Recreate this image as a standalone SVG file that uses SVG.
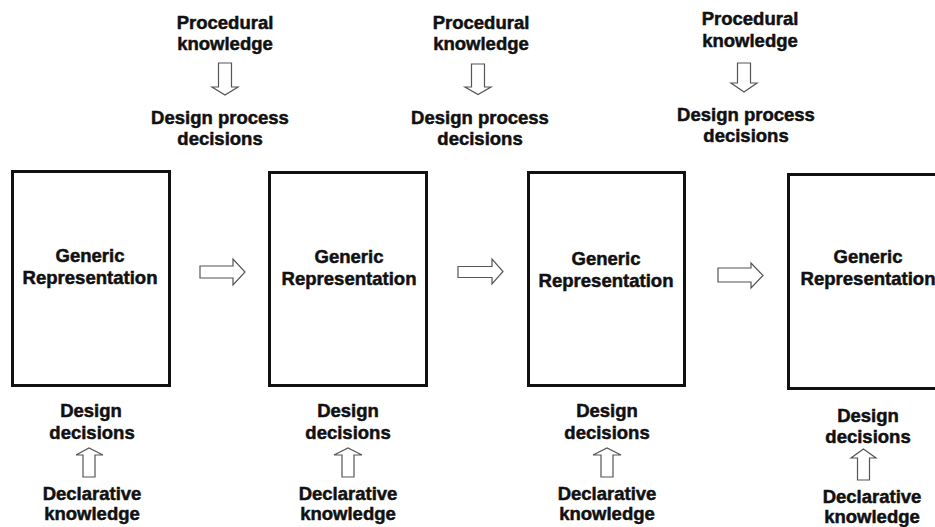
<svg xmlns="http://www.w3.org/2000/svg" width="935" height="527" viewBox="0 0 935 527">
<style>
  .t { font-family: "Liberation Sans", Arial, sans-serif; font-weight: bold; font-size: 18.5px; fill: #111; stroke: #111; stroke-width: 0.5; text-anchor: middle; }
  .box { fill: #fff; stroke: #111; stroke-width: 3; }
  .arr { fill: #fff; stroke: #555; stroke-width: 1.2; stroke-linejoin: miter; }
</style>
<rect width="935" height="527" fill="#fff"/>

<g id="node-rep1">
  <rect class="box" x="12.5" y="171.5" width="157" height="214"/>
  <text class="t" x="90" y="262">Generic</text>
  <text class="t" x="90" y="284" textLength="135" lengthAdjust="spacingAndGlyphs">Representation</text>
</g>
<g id="node-rep2">
  <rect class="box" x="269.5" y="172.5" width="157" height="213"/>
  <text class="t" x="349" y="263">Generic</text>
  <text class="t" x="349" y="285" textLength="135" lengthAdjust="spacingAndGlyphs">Representation</text>
</g>
<g id="node-rep3">
  <rect class="box" x="528.5" y="172.5" width="156" height="213"/>
  <text class="t" x="606" y="265">Generic</text>
  <text class="t" x="606" y="287" textLength="135" lengthAdjust="spacingAndGlyphs">Representation</text>
</g>
<g id="node-rep4">
  <rect class="box" x="788.5" y="174.5" width="157" height="214"/>
  <text class="t" x="868" y="263">Generic</text>
  <text class="t" x="868" y="285" textLength="135" lengthAdjust="spacingAndGlyphs">Representation</text>
</g>

<g id="node-top1">
  <text class="t" x="225" y="29">Procedural</text>
  <text class="t" x="225" y="50">knowledge</text>
  <text class="t" x="220" y="124">Design process</text>
  <text class="t" x="220" y="145">decisions</text>
</g>
<g id="node-top2">
  <text class="t" x="481" y="29">Procedural</text>
  <text class="t" x="481" y="50">knowledge</text>
  <text class="t" x="480" y="124">Design process</text>
  <text class="t" x="480" y="145">decisions</text>
</g>
<g id="node-top3">
  <text class="t" x="750" y="25">Procedural</text>
  <text class="t" x="750" y="47">knowledge</text>
  <text class="t" x="746" y="121">Design process</text>
  <text class="t" x="746" y="142">decisions</text>
</g>

<g id="node-bot1">
  <text class="t" x="91" y="417">Design</text>
  <text class="t" x="92" y="439">decisions</text>
  <text class="t" x="92" y="500">Declarative</text>
  <text class="t" x="92" y="520">knowledge</text>
</g>
<g id="node-bot2">
  <text class="t" x="348" y="417">Design</text>
  <text class="t" x="348" y="439">decisions</text>
  <text class="t" x="348" y="500">Declarative</text>
  <text class="t" x="348" y="520">knowledge</text>
</g>
<g id="node-bot3">
  <text class="t" x="607" y="417">Design</text>
  <text class="t" x="607" y="439">decisions</text>
  <text class="t" x="607" y="500">Declarative</text>
  <text class="t" x="607" y="520">knowledge</text>
</g>
<g id="node-bot4">
  <text class="t" x="868" y="422">Design</text>
  <text class="t" x="868" y="443">decisions</text>
  <text class="t" x="872" y="503">Declarative</text>
  <text class="t" x="872" y="523">knowledge</text>
</g>

<g id="connectors">
  <path class="arr" d="M200,266 H233 V259 L245,272 L233,285 V278 H200 Z"/>
  <path class="arr" d="M458,266.5 H492 V259 L503,271.5 L492,284 V277.5 H458 Z"/>
  <path class="arr" d="M718,268 H751 V263 L763,275.5 L751,288 V282 H718 Z"/>
  <path class="arr" d="M218.5,63 H231.5 V87 H238 L225,95 L212,87 H218.5 Z"/>
  <path class="arr" d="M471.5,64 H484.5 V87 H491 L478,94.5 L465,87 H471.5 Z"/>
  <path class="arr" d="M737.5,63 H750.5 V83 H757 L744,92 L731,83 H737.5 Z"/>
  <path class="arr" d="M83,477 H95 V455 H103 L89,448 L76,455 H83 Z"/>
  <path class="arr" d="M342,477 H354 V455 H362 L348,448 L334,455 H342 Z"/>
  <path class="arr" d="M601,477 H613 V455 H621 L607,448 L593,455 H601 Z"/>
  <path class="arr" d="M857.5,480 H869.5 V458 H876 L863.5,449 L851,458 H857.5 Z"/>
</g>
</svg>
